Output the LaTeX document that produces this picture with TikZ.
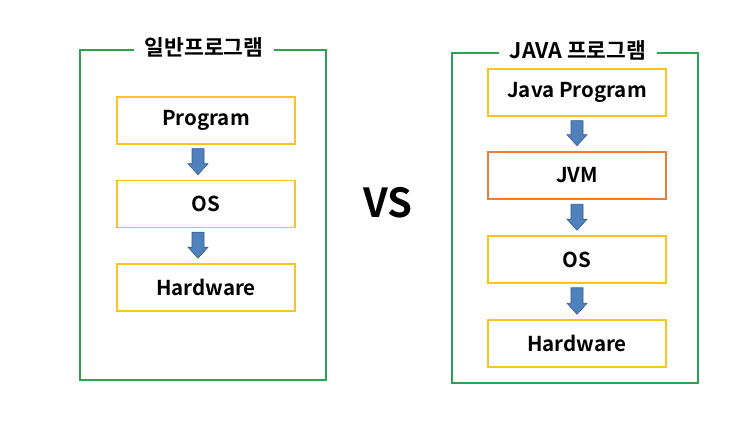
\documentclass[tikz,border=0pt]{standalone}
\usepackage{fontspec}
\setmainfont{Noto Sans CJK KR Bold}
\usetikzlibrary{calc}
\definecolor{frameg}{RGB}{40,165,80}
\definecolor{boxy}{RGB}{250,195,30}
\definecolor{boxo}{RGB}{237,125,49}
\definecolor{arrb}{RGB}{79,129,189}
\definecolor{arrd}{RGB}{56,93,138}
\tikzset{
  frame/.style={draw=frameg, line width=1.6pt},
  titlelbl/.style={fill=white, inner xsep=11pt, inner ysep=2pt, font=\fontsize{21.5}{24}\selectfont},
  layer/.style={draw=boxy, line width=1.5pt, minimum width=178pt, minimum height=47pt, font=\fontsize{20.5}{23}\selectfont, inner sep=0pt},
  jvmlayer/.style={layer, draw=boxo, line width=2.6pt},
  barrowstyle/.style={fill=arrb, draw=arrd, line width=0.6pt, line join=miter},
}
% #1 from node, #2 to node, #3 horizontal shift
\newcommand\barrow[3]{%
  \draw[barrowstyle] ($(#1.south)+(#3-6,-4)$) -- ($(#1.south)+(#3+6,-4)$)
    -- ($(#2.north)+(#3+6,16)$) -- ($(#2.north)+(#3+10,16)$) -- ($(#2.north)+(#3,5)$)
    -- ($(#2.north)+(#3-10,16)$) -- ($(#2.north)+(#3-6,16)$) -- cycle;}
\begin{document}
\begin{tikzpicture}[x=1pt,y=1pt]
\useasboundingbox (0,0) rectangle (750,421);
\fill[white] (0,0) rectangle (750,421);
% left frame
\draw[frame] (80,41) rectangle (326,371);
\node[titlelbl] (lt) at (204,374) {일반프로그램};
\node[layer] (lp) at (206,300.5) {Program};
\node[layer] (lo) at (206,217) {OS};
\node[layer] (lh) at (206,133.5) {Hardware};
\barrow{lp}{lo}{-8}
\barrow{lo}{lh}{-8}
% VS
\node[font=\fontsize{40}{44}\selectfont] (vs) at (388,218) {VS};
% right frame
\draw[frame] (452,38) rectangle (698,368);
\node[titlelbl] (rt) at (578,371) {JAVA 프로그램};
\node[layer] (rp) at (577,328.5) {Java Program};
\node[jvmlayer] (rj) at (577,245.5) {JVM};
\node[layer] (ro) at (577,161.5) {OS};
\node[layer] (rh) at (577,77.5) {Hardware};
\barrow{rp}{rj}{0}
\barrow{rj}{ro}{0}
\barrow{ro}{rh}{0}
\end{tikzpicture}
\end{document}
